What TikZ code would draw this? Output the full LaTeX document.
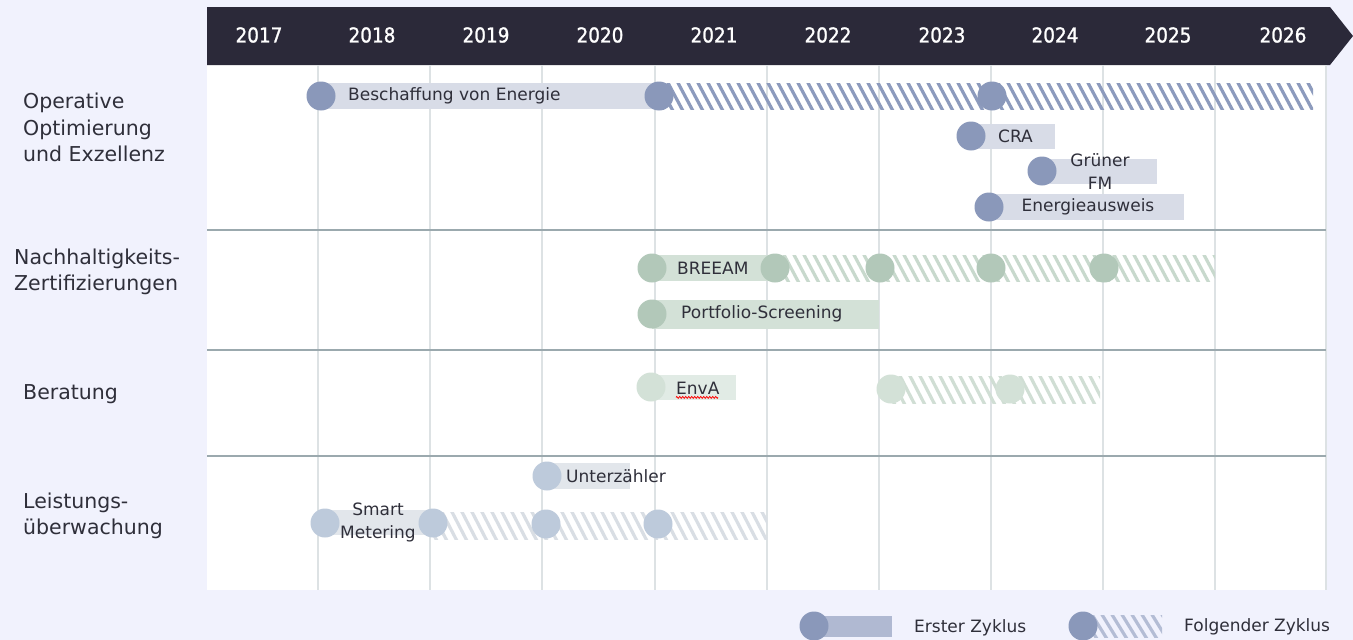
\documentclass[tikz,border=0pt]{standalone}
\usepackage{fontspec}
\setmainfont{DejaVu Sans}
\newfontfamily\yrfont[FakeStretch=0.9,FakeBold=1.2]{DejaVu Sans}
\usetikzlibrary{decorations.pathmorphing}
\definecolor{bgc}{HTML}{F1F2FD}
\definecolor{headc}{HTML}{2B2939}
\definecolor{gridc}{HTML}{DDE2E4}
\definecolor{sepc}{HTML}{9BA9AE}
\definecolor{txtc}{HTML}{2F2F3A}
\definecolor{cA}{HTML}{8A98BA}
\definecolor{bA}{HTML}{D8DCE7}
\definecolor{hA}{HTML}{8D9BBD}
\definecolor{cB}{HTML}{B2C8B9}
\definecolor{bB}{HTML}{D3E1D7}
\definecolor{hB}{HTML}{C8D9CD}
\definecolor{cC}{HTML}{D3E1D7}
\definecolor{bC}{HTML}{E1EBE5}
\definecolor{hC}{HTML}{D0DED4}
\definecolor{cD}{HTML}{BDCADB}
\definecolor{bD}{HTML}{E2E6EB}
\definecolor{hD}{HTML}{D9DEE4}
\definecolor{legbar}{HTML}{B0B9D2}
\definecolor{leghatch}{HTML}{B4BDD5}
\newcommand{\hatchbar}[5]{%
  \begin{scope}
    \clip (#1,#3) rectangle (#2,#4);
    \pgfmathtruncatemacro{\hn}{(#2-#1)/10+4}
    \foreach \k in {0,...,\hn}{\draw[line width=3.2pt,#5] ({#1-22+10*\k},{#3-2}) -- ++(16,{#4-#3+4});}
  \end{scope}}
\begin{document}
\begin{tikzpicture}[x=1pt,y=-1pt,
  dotA/.style={circle,fill=cA,minimum size=29pt,inner sep=0pt},
  dotB/.style={circle,fill=cB,minimum size=29pt,inner sep=0pt},
  dotC/.style={circle,fill=cC,minimum size=29pt,inner sep=0pt},
  dotD/.style={circle,fill=cD,minimum size=29pt,inner sep=0pt},
  yr/.style={text=white,font=\yrfont\fontsize{20.5}{24}\selectfont,inner sep=0pt},
  rowlbl/.style={text=txtc,font=\fontsize{20.5}{26.5}\selectfont,align=left,anchor=west,inner sep=0pt},
  lbl/.style={text=txtc,font=\fontsize{17}{23}\selectfont,inner sep=0pt},
  gridl/.style={gridc,line width=1.5pt},
  sepl/.style={sepc,line width=1.4pt}]
\useasboundingbox (0,0) rectangle (1353,640);
\fill[bgc] (0,0) rectangle (1353,640);
\fill[white] (207,65) rectangle (1327,590);
\fill[headc] (207,7) -- (1330,7) -- (1353,36) -- (1330,65) -- (207,65) -- cycle;
\foreach \x in {318,430,542,655,767,879,991,1103,1215,1326}
  \draw[gridl] (\x,65) -- (\x,590);
\foreach \y in {230,350,456}
  \draw[sepl] (207,\y) -- (1326,\y);
\foreach \x/\t in {259/2017,372/2018,486/2019,600/2020,714/2021,828/2022,942/2023,1055/2024,1168/2025,1283/2026}
  \node[yr] (y\t) at (\x,35) {\t};
% row labels
\node[rowlbl] (l1) at (23,127.5) {Operative\\Optimierung\\und Exzellenz};
\node[rowlbl] (l2) at (14,272) {Nachhaltigkeits-\\Zertifizierungen};
\node[rowlbl] (l3) at (23,394) {Beratung};
\node[rowlbl] (l4) at (23,516) {Leistungs-\\überwachung};
% row 1
\fill[bA] (321,83) rectangle (655,109);
\hatchbar{659}{1313}{83}{109}{hA}
\node[dotA] (a1) at (321,96) {};
\node[dotA] (a2) at (659,96) {};
\node[dotA] (a3) at (992,96) {};
\node[lbl,anchor=west] (t1) at (348,96) {Beschaffung von Energie};
\fill[bA] (971,124) rectangle (1055,149);
\node[dotA] (a4) at (971,136) {};
\node[lbl,anchor=west] (t2) at (998,136) {CRA};
\fill[bA] (1042,159) rectangle (1157,184);
\node[dotA] (a5) at (1042,171) {};
\node[lbl,align=center] (t3) at (1100,171.5) {Grüner\\FM};
\fill[bA] (989,194) rectangle (1184,220);
\node[dotA] (a6) at (989,207) {};
\node[lbl] (t4) at (1088,207) {Energieausweis};
% row 2
\fill[bB] (652,255) rectangle (775,281);
\hatchbar{775}{1215}{255}{281}{hB}
\node[dotB] (b1) at (652,268) {};
\node[dotB] (b2) at (775,268) {};
\node[dotB] (b3) at (880,268) {};
\node[dotB] (b4) at (991,268) {};
\node[dotB] (b5) at (1104,268) {};
\node[lbl,anchor=west] (t5) at (677,268) {BREEAM};
\fill[bB] (652,300) rectangle (879,329);
\node[dotB] (b6) at (652,314) {};
\node[lbl,anchor=west] (t6) at (681,314) {Portfolio-Screening};
% row 3
\fill[bC] (651,375) rectangle (736,400);
\node[dotC] (c1) at (651,387) {};
\node[lbl,anchor=west] (t7) at (676,388) {EnvA};
\draw[red,line width=0.8pt,decorate,decoration={zigzag,amplitude=0.9pt,segment length=3pt}] (t7.south west) ++(0,3) -- ++(42,0);
\hatchbar{891}{1100}{376}{403}{hC}
\node[dotC] (c2) at (891,389) {};
\node[dotC] (c3) at (1010,389) {};
% row 4
\fill[bD] (547,463) rectangle (630,489);
\node[dotD] (d1) at (547,476) {};
\node[lbl,anchor=west] (t8) at (566,476) {Unterzähler};
\fill[bD] (325,510) rectangle (433,535);
\hatchbar{433}{767}{512}{539}{hD}
\node[dotD] (d2) at (325,523) {};
\node[dotD] (d3) at (433,523) {};
\node[dotD] (d4) at (546,524) {};
\node[dotD] (d5) at (658,524) {};
\node[lbl,align=center] (t9) at (378,522.5) {Smart\\Metering};
% legend
\fill[legbar] (814,616) rectangle (892,637);
\node[dotA] (e1) at (814,626) {};
\node[lbl,anchor=west] (t10) at (914,628) {Erster Zyklus};
\hatchbar{1083}{1162}{615}{637}{leghatch}
\node[dotA] (e2) at (1083,626) {};
\node[lbl,anchor=west] (t11) at (1184,627) {Folgender Zyklus};
\end{tikzpicture}
\end{document}
